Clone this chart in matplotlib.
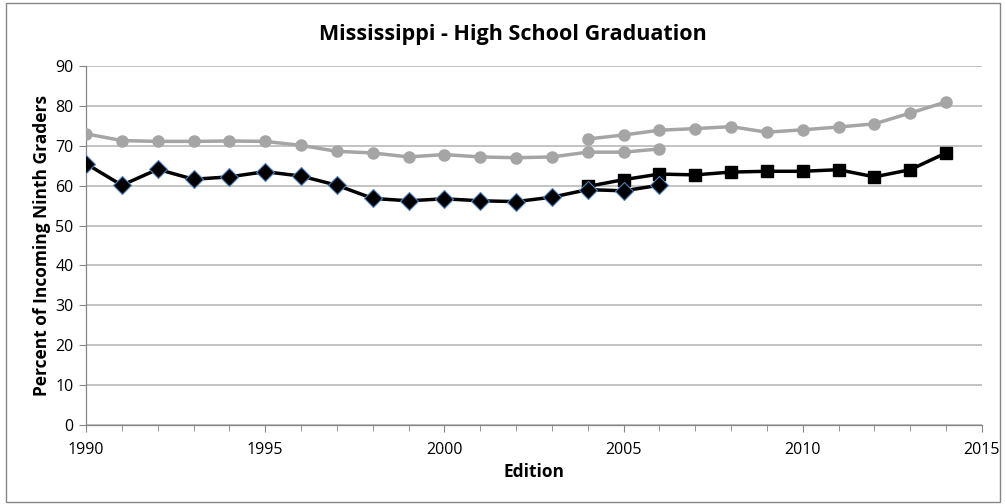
import matplotlib.pyplot as plt
from matplotlib.patches import Rectangle
from matplotlib.ticker import MultipleLocator

plt.rcParams['font.family'] = ['Open Sans', 'DejaVu Sans']

# older edition series (1990-2006)
years_old = list(range(1990, 2007))
grad_old_gray = [73.0, 71.3, 71.1, 71.1, 71.2, 71.1, 70.1, 68.6, 68.2, 67.2,
                 67.8, 67.2, 67.0, 67.2, 68.4, 68.4, 69.2]
grad_old_black = [65.5, 60.1, 64.1, 61.6, 62.2, 63.5, 62.4, 60.1, 56.8, 56.2,
                  56.7, 56.2, 56.0, 57.1, 59.0, 58.7, 60.1]

# newer edition series (2004-2014)
years_new = list(range(2004, 2015))
grad_new_gray = [71.7, 72.7, 73.9, 74.3, 74.8, 73.4, 74.0, 74.7, 75.5, 78.2, 81.0]
grad_new_black = [59.8, 61.5, 62.9, 62.7, 63.4, 63.6, 63.6, 64.0, 62.2, 64.0, 68.2]

gray = '#A5A5A5'

fig = plt.figure(figsize=(10.05, 5.04), dpi=100)
ax = fig.add_axes([0.0856, 0.157, 0.8914, 0.712])

ax.plot(years_old, grad_old_gray, color=gray, lw=2.5, marker='o', ms=8,
        mec=gray, mfc=gray, zorder=3)
ax.plot(years_new, grad_new_gray, color=gray, lw=2.5, marker='o', ms=8,
        mec=gray, mfc=gray, zorder=3)
ax.plot(years_new, grad_new_black, color='black', lw=2.5, marker='s', ms=8,
        mec='black', mfc='black', zorder=4)
ax.plot(years_old, grad_old_black, color='black', lw=2.5, marker='D', ms=9,
        mec='#4F81BD', mew=0.8, mfc='black', zorder=5)

ax.set_xlim(1990, 2015)
ax.set_ylim(0, 90)
ax.xaxis.set_major_locator(MultipleLocator(5))
ax.xaxis.set_minor_locator(MultipleLocator(1))
ax.yaxis.set_major_locator(MultipleLocator(10))
ax.grid(axis='y', color='#BEBEBE', lw=1.3)
ax.set_axisbelow(True)

for s in ['top', 'right']:
    ax.spines[s].set_visible(False)
for s in ['left', 'bottom']:
    ax.spines[s].set_color('#868686')
    ax.spines[s].set_linewidth(0.9)

ax.tick_params(axis='y', length=5, color='#868686', labelsize=11.5, pad=4)
ax.tick_params(axis='x', which='major', length=5, color='#868686',
               labelsize=11.5, pad=7)
ax.tick_params(axis='x', which='minor', length=4, color='#868686')

ax.set_xlabel('Edition', fontsize=12.5, fontweight='bold', labelpad=4)
ax.set_ylabel('Percent of Incoming Ninth Graders', fontsize=12.5,
              fontweight='bold', labelpad=3)
fig.suptitle('Mississippi - High School Graduation', fontsize=15.5,
             fontweight='bold', x=0.51, y=0.952)

fig.patches.append(Rectangle((0.006, 0.004), 0.989, 0.99, transform=fig.transFigure,
                             fill=False, ec='#868686', lw=1))

plt.savefig('out.png', dpi=100)
